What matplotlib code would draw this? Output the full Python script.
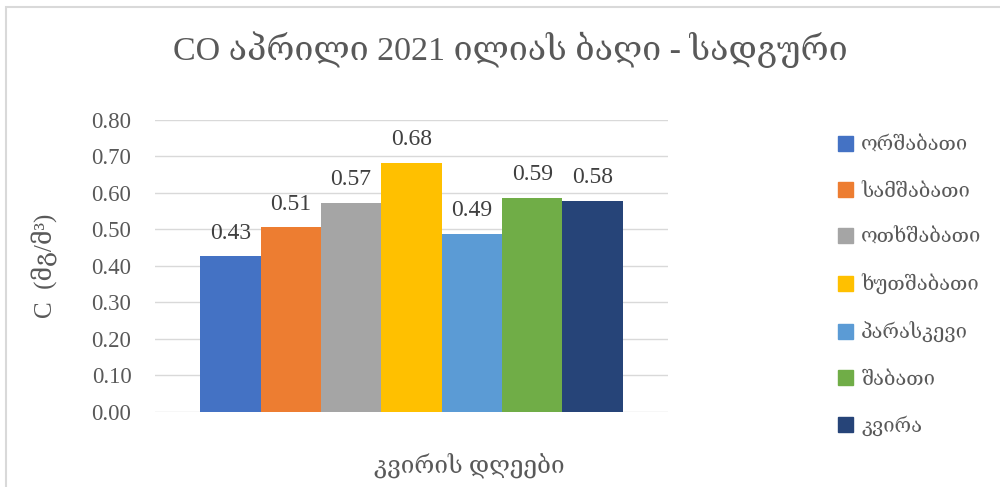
import matplotlib
matplotlib.use("Agg")
import matplotlib.pyplot as plt
from matplotlib.patches import Rectangle, Patch

plt.rcParams['font.family'] = ['Liberation Serif', 'DejaVu Serif', 'DejaVu Sans']

days = ["ორშაბათი", "სამშაბათი", "ოთხშაბათი", "ხუთშაბათი", "პარასკევი", "შაბათი", "კვირა"]
values = [0.426, 0.506, 0.573, 0.682, 0.488, 0.587, 0.578]
colors = ["#4472C4", "#ED7D31", "#A5A5A5", "#FFC000", "#5B9BD5", "#70AD47", "#264478"]
yticks = [0.0, 0.1, 0.2, 0.3, 0.4, 0.5, 0.6, 0.7, 0.8]

TXT = "#595959"

fig = plt.figure(figsize=(10, 4.87), dpi=100)
ax = fig.add_axes([0.155, 0.154, 0.513, 0.6])

n = len(values)
group = 0.824
w = group / n
for i, (d, v, c) in enumerate(zip(days, values, colors)):
    xpos = -group / 2 + w * (i + 0.5)
    ax.bar(xpos, v, width=w, color=c, label=d, zorder=3)
    ax.annotate(f"{v:.2f}", (xpos, v), textcoords="offset points", xytext=(0, 9),
                ha="center", va="bottom", fontsize=17, color="#404040")

ax.set_xlim(-0.5, 0.5)
ax.set_ylim(0, 0.8)
ax.set_yticks(yticks)
ax.set_yticklabels([f"{t:.2f}" for t in yticks], fontsize=16.5, color=TXT)
ax.set_xticks([])
ax.tick_params(axis="y", length=0, pad=17)
ax.grid(True, axis="y", color="#D9D9D9", lw=1, zorder=0)
for s in ax.spines.values():
    s.set_visible(False)

ax.set_ylabel("C  (მგ/მ³)", fontsize=18, color=TXT)
ax.yaxis.set_label_coords(-0.19, 0.5)
fig.text(0.51, 0.897, "CO აპრილი 2021 ილიას ბაღი - სადგური", ha="center", va="center",
         fontsize=24.5, color=TXT)
fig.text(0.469, 0.045, "კვირის დღეები", ha="center", va="center", fontsize=17.5, color=TXT)

handles = [Patch(color=c) for c in colors]
leg = fig.legend(handles, days, loc="center left", bbox_to_anchor=(0.82, 0.412),
                 frameon=False, fontsize=14.5, handlelength=0.75, handleheight=0.75,
                 handletextpad=0.4, labelspacing=1.33)
for t in leg.get_texts():
    t.set_color(TXT)

fig.patches.append(Rectangle((0.006, -0.02), 1.1, 1.005, transform=fig.transFigure,
                             fill=False, edgecolor="#D9D9D9", lw=1.5))

fig.savefig("out.png", dpi=100)
